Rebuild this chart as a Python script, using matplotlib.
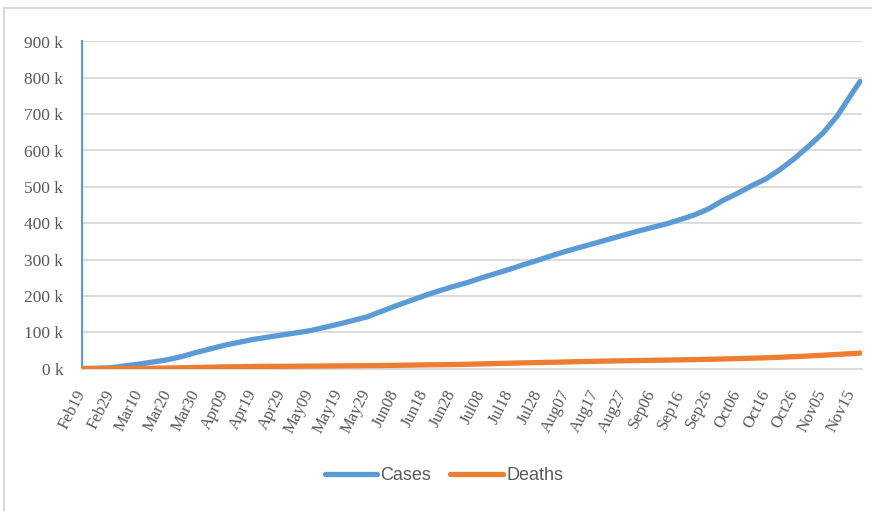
import numpy as np
import pandas as pd
import matplotlib
matplotlib.use("Agg")
import matplotlib.pyplot as plt
from matplotlib.lines import Line2D

days = [0, 5, 10, 15, 20, 25, 30, 35, 40, 45, 50, 55, 60, 65, 70, 75, 80, 85, 90, 95,
        100, 105, 110, 115, 120, 125, 130, 135, 140, 145, 150, 155, 160, 165, 170, 175,
        180, 185, 190, 195, 200, 205, 210, 215, 220, 225, 230, 235, 240, 245, 250, 255,
        260, 265, 270, 273]

# cumulative cases, thousands
cases_k = [0, 0.5, 2, 7, 12, 18, 24, 33, 44, 54, 64, 72, 80, 86, 92, 98, 104, 113, 122, 132,
           142, 157, 172, 186, 200, 213, 225, 236, 249, 261, 273, 286, 298, 311, 323, 334,
           345, 356, 367, 378, 388, 398, 410, 423, 440, 463, 482, 503, 522, 548, 578, 612,
           648, 695, 755, 790]

# cumulative deaths, thousands
deaths_k = [0, 0, 0.03, 0.1, 0.3, 0.7, 1.3, 2.1, 2.9, 3.7, 4.4, 5.0, 5.5, 5.8, 6.0, 6.3, 6.6, 6.9, 7.2, 7.5,
            7.8, 8.2, 8.7, 9.3, 9.9, 10.4, 10.8, 11.6, 12.6, 13.6, 14.6, 15.5, 16.3, 17.2, 18.1, 19.0,
            19.8, 20.6, 21.2, 21.9, 22.5, 23.1, 23.8, 24.5, 25.4, 26.2, 27.2, 28.3, 29.6, 31.0, 32.6, 34.5,
            36.5, 38.7, 41.0, 42.5]

start = pd.Timestamp("2020-02-19")
dates = start + pd.to_timedelta(days, unit="D")
tick_dates = pd.date_range("2020-02-19", "2020-11-15", freq="10D")
y_ticks = np.arange(0, 901, 100)

blue = "#5B9BD5"
orange = "#ED7D31"
grid_c = "#D9D9D9"
txt_c = "#595959"

fig = plt.figure(figsize=(8.72, 5.11), dpi=100)
ax = fig.add_axes([82 / 872, 1 - 368.5 / 511, 780 / 872, 327 / 511])

ax.plot(dates, cases_k, color=blue, lw=3.8, solid_capstyle="round", label="Cases", zorder=3)
ax.plot(dates, deaths_k, color=orange, lw=3.8, solid_capstyle="round", label="Deaths", zorder=3)

ax.set_ylim(0, 900)
ax.set_xlim(start, start + pd.Timedelta(days=273.7))
ax.set_yticks(y_ticks)
ax.set_yticklabels([f"{v} k" for v in y_ticks], fontfamily="Liberation Serif",
                   fontsize=12.5, color=txt_c)
ax.set_xticks(tick_dates)
ax.set_xticklabels([d.strftime("%b%d") for d in tick_dates], rotation=63,
                   ha="right", va="center", rotation_mode="anchor",
                   fontfamily="Liberation Serif", fontsize=12, color=txt_c)
ax.tick_params(axis="y", length=0, pad=13.5)
ax.tick_params(axis="x", length=0, pad=16)

ax.grid(axis="y", color=grid_c, lw=1.3)
ax.set_axisbelow(True)
for s in ["top", "right"]:
    ax.spines[s].set_visible(False)
ax.spines["left"].set_color(blue)
ax.spines["left"].set_linewidth(1.5)
ax.spines["bottom"].set_color(grid_c)
ax.spines["bottom"].set_linewidth(1.3)

leg = fig.legend(loc="center", bbox_to_anchor=(444 / 872, 1 - 476 / 511), ncol=2,
                 frameon=False, handlelength=2.9, handletextpad=0.2, columnspacing=1.05,
                 prop={"family": "Liberation Sans", "size": 13})
for t in leg.get_texts():
    t.set_color(txt_c)

# outer chart border (top and left edges visible)
fig.add_artist(Line2D([4 / 872, 1.0], [1 - 8 / 511, 1 - 8 / 511], color=grid_c, lw=1.5))
fig.add_artist(Line2D([4 / 872, 4 / 872], [0.0, 1 - 8 / 511], color=grid_c, lw=1.5))

fig.savefig("out.png", dpi=100)
